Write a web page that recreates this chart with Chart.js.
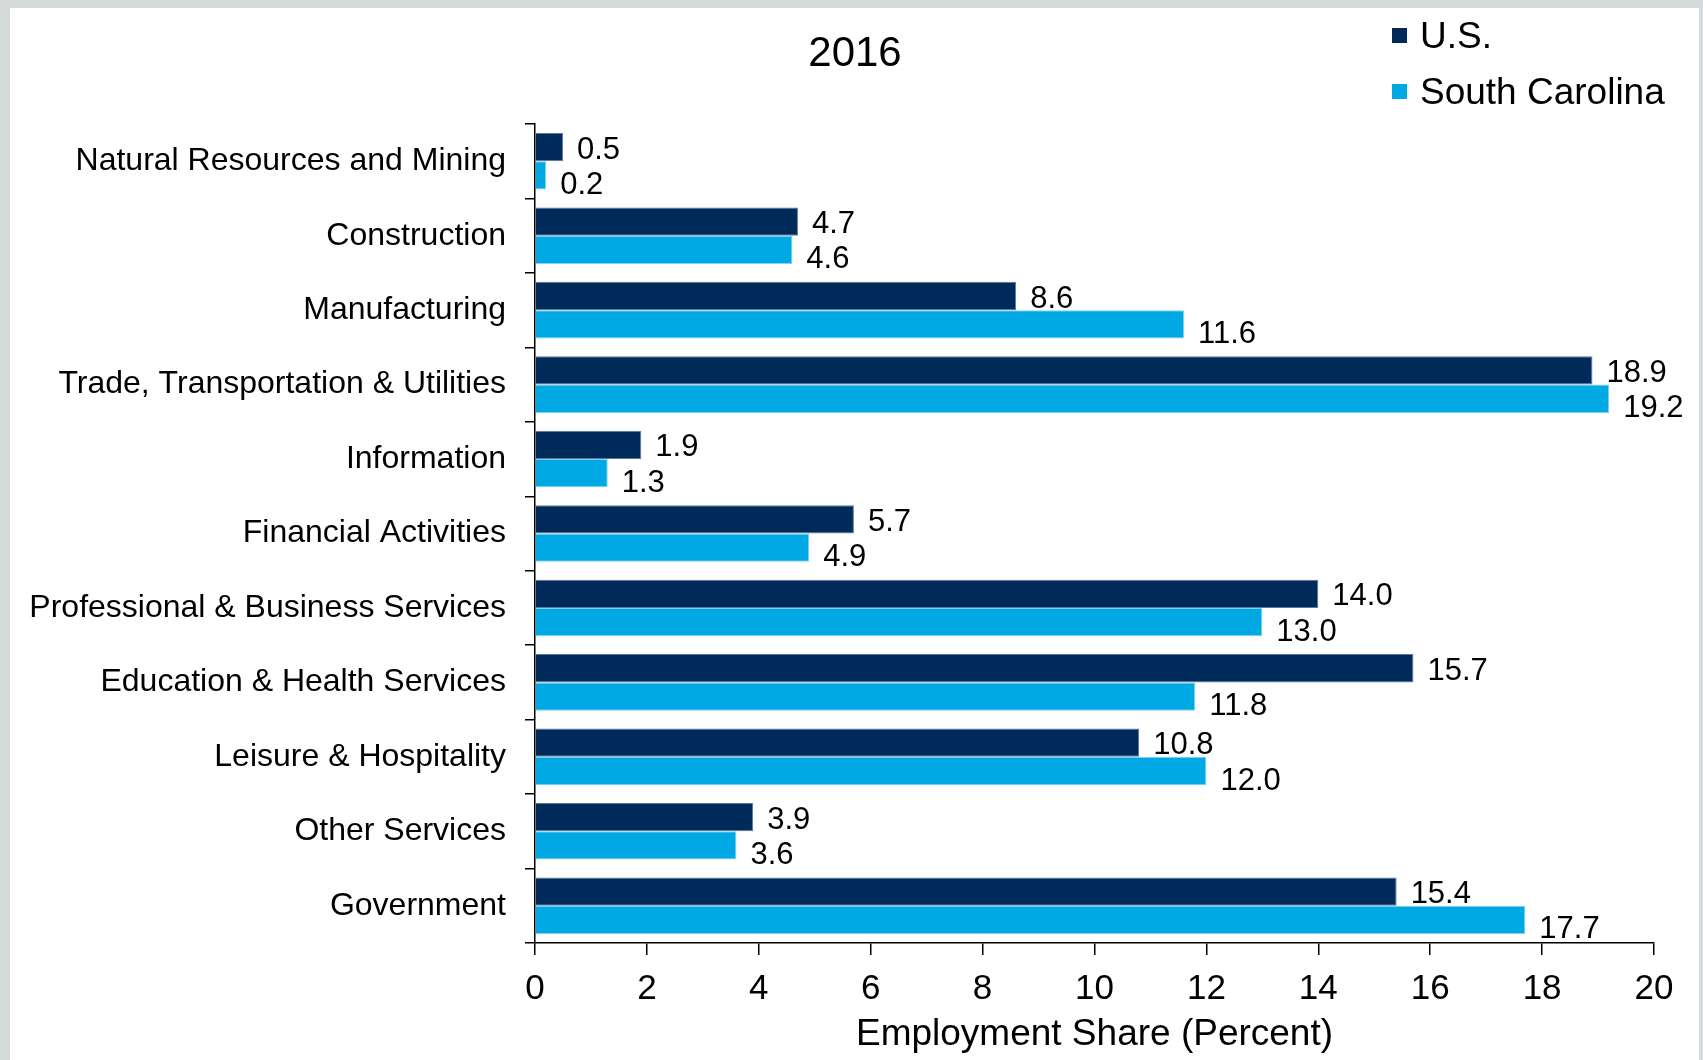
<!DOCTYPE html>
<html>
<head>
<meta charset="utf-8">
<script src="https://cdn.jsdelivr.net/npm/chart.js@4"></script>
<style>
  html, body { margin: 0; padding: 0; background: #d6dcdc; overflow: hidden; }
  canvas { display: block; }
</style>
</head>
<body>
<canvas id="shareChart" width="1703" height="1060"></canvas>
<script>
// --- data ---
const categories = [
    'Natural Resources and Mining',
    'Construction',
    'Manufacturing',
    'Trade, Transportation & Utilities',
    'Information',
    'Financial Activities',
    'Professional & Business Services',
    'Education & Health Services',
    'Leisure & Hospitality',
    'Other Services',
    'Government'
];
const usShare = [0.5, 4.7, 8.6, 18.9, 1.9, 5.7, 14.0, 15.7, 10.8, 3.9, 15.4];
const scShare = [0.2, 4.6, 11.6, 19.2, 1.3, 4.9, 13.0, 11.8, 12.0, 3.6, 17.7];
const xTickValues = [0, 2, 4, 6, 8, 10, 12, 14, 16, 18, 20];
const chartTitle = '2016';

const FONT = '"Liberation Sans", Arial, sans-serif';
const NAVY = '#002a5a';
const CYAN = '#00a9e4';

// gray frame with white panel, plus the title
const framePlugin = {
    id: 'frame',
    beforeDraw(chart) {
        const ctx = chart.ctx;
        ctx.save();
        ctx.fillStyle = '#d6dcdc';
        ctx.fillRect(0, 0, chart.width, chart.height);
        ctx.fillStyle = '#ffffff';
        ctx.fillRect(10, 8, chart.width - 14, chart.height - 8);

        // title sits over the whole figure, not the plot area
        ctx.font = '42px ' + FONT;
        ctx.fillStyle = '#000';
        ctx.textAlign = 'center';
        ctx.textBaseline = 'middle';
        ctx.fillText(chartTitle, 855, 54);
        ctx.restore();
    }
};

// value labels at the end of each bar (light bars sit a bit lower, like the original)
const valueLabels = {
    id: 'valueLabels',
    afterDatasetsDraw(chart) {
        const ctx = chart.ctx;
        const nudge = [3, 10];
        ctx.save();
        ctx.font = '31px ' + FONT;
        ctx.fillStyle = '#000';
        ctx.textBaseline = 'middle';
        ctx.textAlign = 'left';
        chart.data.datasets.forEach((ds, i) => {
            chart.getDatasetMeta(i).data.forEach((bar, j) => {
                ctx.fillText(ds.data[j].toFixed(1), bar.x + 14, bar.y + nudge[i]);
            });
        });
        ctx.restore();
    }
};

// legend in the top right corner
const cornerLegend = {
    id: 'cornerLegend',
    afterDraw(chart) {
        const ctx = chart.ctx;
        ctx.save();
        ctx.font = '37px ' + FONT;
        ctx.textBaseline = 'middle';
        ctx.textAlign = 'left';
        chart.data.datasets.forEach((ds, i) => {
            const cy = 36 + i * 56;
            ctx.fillStyle = ds.backgroundColor;
            ctx.fillRect(1392, cy - 8, 15, 15);
            ctx.fillStyle = '#000';
            ctx.fillText(ds.label, 1420, cy + 2);
        });
        ctx.restore();
    }
};

new Chart(document.getElementById('shareChart'), {
    type: 'bar',
    data: {
        labels: categories,
        datasets: [
            {
                label: 'U.S.',
                data: usShare,
                backgroundColor: NAVY,
                borderColor: '#5b779c',
                borderWidth: 1,
                categoryPercentage: 0.76,
                barPercentage: 1.0
            },
            {
                label: 'South Carolina',
                data: scShare,
                backgroundColor: CYAN,
                borderColor: '#7fd3f1',
                borderWidth: 1,
                categoryPercentage: 0.76,
                barPercentage: 1.0
            }
        ]
    },
    options: {
        indexAxis: 'y',
        responsive: false,
        animation: false,
        layout: { padding: { left: 0, right: 49, top: 124, bottom: 0 } },
        plugins: {
            legend: { display: false },
            tooltip: { enabled: false },
            title: { display: false }
        },
        scales: {
            y: {
                grid: {
                    offset: true,
                    drawOnChartArea: false,
                    drawTicks: true,
                    tickLength: 10,
                    color: '#000',
                    lineWidth: 1.5
                },
                border: { display: true, color: '#000', width: 1.5 },
                ticks: {
                    color: '#000',
                    font: { family: FONT, size: 32 },
                    padding: 19,
                    autoSkip: false
                },
                afterFit(scale) { scale.width = 535; }
            },
            x: {
                min: 0,
                max: 20,
                afterBuildTicks(scale) {
                    scale.ticks = xTickValues.map(v => ({ value: v }));
                },
                grid: {
                    drawOnChartArea: false,
                    drawTicks: true,
                    tickLength: 12,
                    color: '#000',
                    lineWidth: 1.5
                },
                border: { display: true, color: '#000', width: 1.5 },
                ticks: {
                    color: '#000',
                    font: { family: FONT, size: 35 },
                    padding: 13,
                    maxRotation: 0
                },
                title: {
                    display: true,
                    text: 'Employment Share (Percent)',
                    color: '#000',
                    font: { family: FONT, size: 37 },
                    padding: { top: 0, bottom: 3 }
                },
                afterFit(scale) { scale.height = 117; }
            }
        }
    },
    plugins: [framePlugin, valueLabels, cornerLegend]
});
</script>
</body>
</html>
